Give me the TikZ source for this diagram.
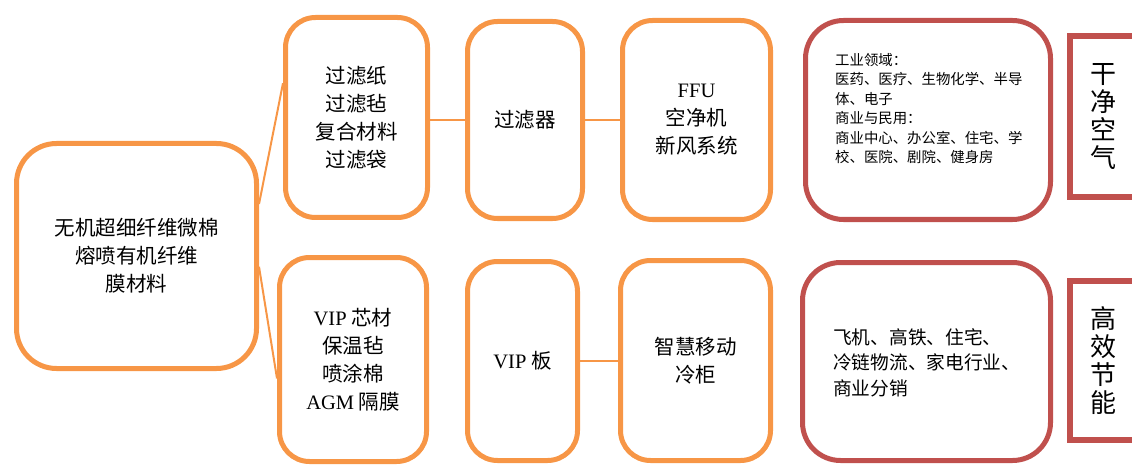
\documentclass[tikz,border=0pt]{standalone}
\usepackage{fontspec}
\setmainfont{Liberation Serif}
\newfontfamily\cjk{Noto Sans CJK SC}
\newcommand\latn[1]{{\rmfamily #1}}
\definecolor{orng}{HTML}{F79646}
\definecolor{dred}{HTML}{C0504D}
\begin{document}
\begin{tikzpicture}[x=1pt,y=-1pt,
  obox/.style={draw=orng, line width=5pt, rounded corners=30pt, inner sep=0pt, align=center,
    font=\fontsize{20.5}{28}\selectfont\cjk},
  rbox/.style={draw=dred, line width=5pt, rounded corners=38pt, inner sep=0pt},
  rsq/.style={draw=dred, line width=6pt, inner sep=0pt, align=center,
    font=\fontsize{26}{28}\selectfont\cjk},
  smalltext/.style={align=left, inner sep=0pt, anchor=west,
    font=\fontsize{14.4}{19.5}\selectfont\cjk},
  midtext/.style={align=left, inner sep=0pt, anchor=west,
    font=\fontsize{18.7}{25.5}\selectfont\cjk},
  link/.style={draw=orng, line width=2pt}]
\useasboundingbox (0,0) rectangle (1132,465);
\clip (0,0) rectangle (1132,465);

% left source box
\node[obox, rounded corners=40pt, minimum width=240pt, minimum height=225pt] (L) at (136.5,256)
  {无机超细纤维微棉\\熔喷有机纤维\\膜材料};

% top row
\node[obox, minimum width=142pt, minimum height=200pt] (T2) at (356.5,117.5)
  {过滤纸\\过滤毡\\复合材料\\过滤袋};
\node[obox, minimum width=115pt, minimum height=197pt] (T3) at (525,120) {过滤器};
\node[obox, minimum width=148pt, minimum height=199pt] (T4) at (696.5,120)
  {\latn{FFU}\\空净机\\新风系统};
\node[rbox, minimum width=245pt, minimum height=199pt] (T5) at (928,120) {};
\node[smalltext] (T5t) at (835,108.5)
  {工业领域：\\医药、医疗、生物化学、半导\\体、电子\\商业与民用：\\商业中心、办公室、住宅、学\\校、医院、剧院、健身房};
\node[rsq, minimum width=66pt, minimum height=161pt] (T6) at (1103,116.5) {干\\净\\空\\气};

% bottom row
\node[obox, minimum width=147pt, minimum height=204pt] (B2) at (353,359.5)
  {\latn{VIP} 芯材\\保温毡\\喷涂棉\\\latn{AGM} 隔膜};
\node[obox, minimum width=110pt, minimum height=199pt] (B3) at (522.5,361) {\latn{VIP} 板};
\node[obox, minimum width=150pt, minimum height=200pt] (B4) at (695.5,360.5)
  {智慧移动\\冷柜};
\node[rbox, minimum width=248pt, minimum height=198pt] (B5) at (926.5,361.5) {};
\node[midtext] (B5t) at (833,362.5)
  {飞机、高铁、住宅、\\冷链物流、家电行业、\\商业分销};
\node[rsq, minimum width=66pt, minimum height=159pt] (B6) at (1103,360.5) {高\\效\\节\\能};

% connectors
\draw[link] (L.23) -- (T2.155);
\draw[link] (L.-5) -- (B2.194);
\draw[link] (T3.west -| T2.east) -- (T3.west);
\draw[link] (T3.east) -- (T3.east -| T4.west);
\draw[link] (B3.east) -- (B3.east -| B4.west);
\end{tikzpicture}
\end{document}
